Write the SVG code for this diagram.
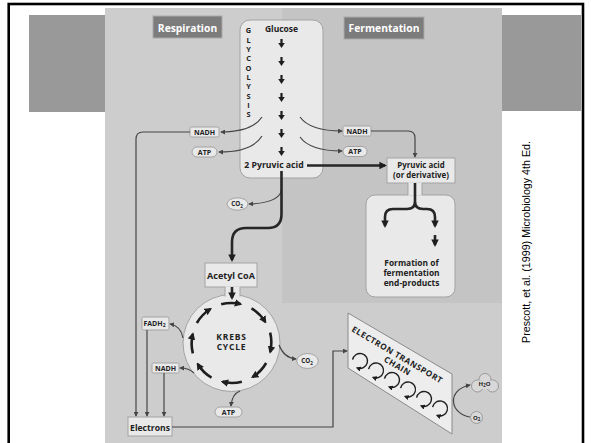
<svg xmlns="http://www.w3.org/2000/svg" width="591" height="443" viewBox="0 0 591 443">
<defs>
<style>
text{font-family:"Open Sans","Liberation Sans",sans-serif;font-weight:700;fill:#222;text-anchor:middle}
.box{fill:#e9e9e9;stroke:#a3a3a3;stroke-width:1}
.fill{fill:#e9e9e9}
.side{stroke:#a3a3a3;stroke-width:1}
.lbl{fill:#7c7c7c;stroke:#a9a9a9;stroke-width:1}
.lt{fill:#fff;font-size:10.3px}
.s7{font-size:7px}
.s85{font-size:8.5px}
.thin{fill:none;stroke:#454545;stroke-width:1.2;marker-end:url(#ah)}
.thick{fill:none;stroke:#262626;stroke-width:2.6;marker-end:url(#ahb)}
.kr{fill:none;stroke:#1e1e1e;stroke-width:2.6;marker-end:url(#ahb)}
.sp{fill:none;stroke:#1e1e1e;stroke-width:1.4;marker-end:url(#ahs)}
.cite{font-family:"Liberation Sans",Arial,sans-serif;font-weight:400;fill:#000;font-size:10.7px;text-anchor:start}
</style>
<marker id="ah" viewBox="0 0 6 6" refX="5" refY="3" markerWidth="5" markerHeight="5" markerUnits="userSpaceOnUse" orient="auto"><path d="M0,0 L6,3 L0,6 z" fill="#454545"/></marker>
<marker id="ahb" viewBox="0 0 8 8" refX="6" refY="4" markerWidth="7.5" markerHeight="7.5" markerUnits="userSpaceOnUse" orient="auto"><path d="M0,0 L8,4 L0,8 z" fill="#1e1e1e"/></marker>
<marker id="ahs" viewBox="0 0 6 6" refX="4" refY="3" markerWidth="5" markerHeight="5" markerUnits="userSpaceOnUse" orient="auto"><path d="M0,0 L6,3 L0,6 z" fill="#1e1e1e"/></marker>
<path id="dn" d="M-1.1,0 H1.1 V4 H3.3 L0,9 L-3.3,4 H-1.1 Z" fill="#1e1e1e"/>
<path id="spiral" class="sp" d="M-7.4,-1.3 A7.5,7.5 0 1 1 -2.6,7"/>
</defs>

<!-- slide decoration -->
<rect x="8.7" y="4" width="574.3" height="460" fill="#fff" stroke="#000" stroke-width="2.6"/>
<rect x="29" y="15" width="76" height="97" fill="#999"/>
<rect x="502" y="15" width="79" height="96" fill="#999"/>

<!-- diagram background -->
<rect x="105" y="8" width="397" height="435" fill="#cdcdcd"/>
<rect x="282" y="8" width="220" height="295" fill="#c4c4c4"/>

<g id="respiration-label"><rect class="lbl" x="153" y="16" width="69" height="22"/><text class="lt" x="187.5" y="31.5">Respiration</text></g>
<g id="fermentation-label"><rect class="lbl" x="344" y="17" width="80" height="22"/><text class="lt" x="384" y="32">Fermentation</text></g>

<g id="glycolysis">
<rect class="box" x="240" y="20" width="83" height="158" rx="10"/>
<text class="s85" x="281.5" y="32">Glucose</text>
<text style="font-size:7.4px"><tspan x="248.5" y="33.3">G</tspan><tspan x="248.5" dy="9.33">L</tspan><tspan x="248.5" dy="9.33">Y</tspan><tspan x="248.5" dy="9.33">C</tspan><tspan x="248.5" dy="9.33">O</tspan><tspan x="248.5" dy="9.33">L</tspan><tspan x="248.5" dy="9.33">Y</tspan><tspan x="248.5" dy="9.33">S</tspan><tspan x="248.5" dy="9.33">I</tspan><tspan x="248.5" dy="9.33">S</tspan></text>
<use href="#dn" x="281.5" y="39"/><use href="#dn" x="281.5" y="57"/><use href="#dn" x="281.5" y="75"/><use href="#dn" x="281.5" y="93"/><use href="#dn" x="281.5" y="111"/><use href="#dn" x="281.5" y="129"/><use href="#dn" x="281.5" y="147"/>
<text x="274" y="168" style="font-size:8.7px">2 Pyruvic acid</text>
</g>

<g id="nadh-left"><rect class="box" x="190" y="127" width="29" height="10" rx="1.5"/><text class="s7" x="204.5" y="134.6">NADH</text></g>
<g id="atp-left"><rect class="box" x="192" y="147" width="25" height="10" rx="5"/><text class="s7" x="204.5" y="154.6">ATP</text></g>
<g id="nadh-right"><rect class="box" x="343" y="126" width="28" height="10" rx="1.5"/><text class="s7" x="357" y="133.6">NADH</text></g>
<g id="atp-right"><rect class="box" x="343" y="146.5" width="24" height="10" rx="5"/><text class="s7" x="355" y="154.1">ATP</text></g>

<g id="pyruvic-derivative">
<rect class="box" x="366" y="195" width="89" height="102" rx="9"/>
<rect class="box" x="387" y="158" width="68" height="25"/>
<rect class="fill" x="408" y="182.5" width="14" height="13"/>
<path class="side" d="M408,183 V195 M422,183 V195"/>
<text x="421" y="167.5" style="font-size:7.9px">Pyruvic acid</text>
<text x="421" y="178.3" style="font-size:7.9px">(or derivative)</text>
<text x="411.5" y="265.5" style="font-size:8.4px">Formation of</text>
<text x="411.5" y="275.5" style="font-size:8.4px">fermentation</text>
<text x="411.5" y="285.5" style="font-size:8.4px">end-products</text>
</g>

<g id="co2-top"><ellipse class="box" cx="237.5" cy="204" rx="10.5" ry="6.2"/><text x="237" y="206.3" style="font-size:6.3px">CO<tspan dy="1.5" style="font-size:4.5px">2</tspan></text></g>

<g id="krebs">
<circle class="box" cx="231.5" cy="343" r="48.5"/>
<rect class="box" x="205" y="263" width="52" height="24"/>
<rect class="fill" x="225" y="286.5" width="15" height="10"/>
<path class="side" d="M225,287 V296.5 M240,287 V296.5"/>
<text x="231" y="278.5" style="font-size:9px">Acetyl CoA</text>
<text x="231.5" y="340" style="font-size:8.5px;letter-spacing:0.8px">KREBS</text>
<text x="231.5" y="350" style="font-size:8.5px;letter-spacing:0.8px">CYCLE</text>
<path class="kr" d="M221.15,304.36 A40,40 0 0 1 240.5,304.1"/>
<path class="kr" d="M251.5,308.36 A40,40 0 0 1 265.3,322"/>
<path class="kr" d="M270.14,332.65 A40,40 0 0 1 270.2,352"/>
<path class="kr" d="M266.14,363 A40,40 0 0 1 252.6,377"/>
<path class="kr" d="M241.85,381.64 A40,40 0 0 1 222.5,381.8"/>
<path class="kr" d="M211.5,377.64 A40,40 0 0 1 197.7,364"/>
<path class="kr" d="M192.86,353.35 A40,40 0 0 1 192.8,334"/>
<path class="kr" d="M196.86,323 A40,40 0 0 1 210.4,309"/>
</g>

<g id="fadh2"><rect class="box" x="142" y="317" width="27" height="13" rx="1.5"/><text class="s7" x="154.5" y="325.8">FADH<tspan dy="1.5" style="font-size:5px">2</tspan></text></g>
<g id="nadh-krebs"><rect class="box" x="152" y="363" width="27" height="10" rx="1.5"/><text class="s7" x="165.5" y="370.6">NADH</text></g>
<g id="co2-krebs"><ellipse class="box" cx="307.5" cy="361" rx="10.8" ry="7.5"/><text x="307" y="363.3" style="font-size:6.3px">CO<tspan dy="1.5" style="font-size:4.5px">2</tspan></text></g>
<g id="atp-krebs"><rect class="box" x="215" y="407" width="27" height="10" rx="5"/><text class="s7" x="228.5" y="414.6">ATP</text></g>
<g id="electrons"><rect class="box" x="128" y="417" width="44" height="19"/><text x="150" y="431" style="font-size:8.6px">Electrons</text></g>

<g id="etc">
<polygon points="348,313 452,374 452,434 348,368" fill="#ededed" stroke="#8a8a8a" stroke-width="1"/>
<text transform="translate(351,331) rotate(30.4)" style="font-size:8.2px;letter-spacing:0.6px;text-anchor:start">ELECTRON TRANSPORT</text>
<text transform="translate(396,368.5) rotate(30.4)" style="font-size:8.2px;letter-spacing:0.6px">CHAIN</text>
<use href="#spiral" x="360" y="361"/><use href="#spiral" x="376" y="370.5"/><use href="#spiral" x="392" y="380"/><use href="#spiral" x="408" y="389.5"/><use href="#spiral" x="424" y="399"/><use href="#spiral" x="440" y="408.5"/>
</g>

<g id="h2o"><circle cx="485" cy="379.5" r="6" fill="#d8d8d8" stroke="#9a9a9a"/><circle cx="477.5" cy="386" r="6" fill="#d8d8d8" stroke="#9a9a9a"/><circle cx="492.5" cy="386" r="6" fill="#d8d8d8" stroke="#9a9a9a"/><circle cx="485" cy="384" r="5.5" fill="#d8d8d8"/><circle cx="479" cy="385" r="4.5" fill="#d8d8d8"/><circle cx="491" cy="385" r="4.5" fill="#d8d8d8"/><text x="484.5" y="385.5" style="font-size:6px">H<tspan dy="1.5" style="font-size:4.3px">2</tspan><tspan dy="-1.5">O</tspan></text></g>
<g id="o2"><circle cx="476.5" cy="417.5" r="6" fill="#d8d8d8" stroke="#9a9a9a"/><text x="476.5" y="419.5" style="font-size:6px">O<tspan dy="1.5" style="font-size:4.3px">2</tspan></text></g>

<g id="connectors">
<path class="thin" d="M262,117 Q252,132 221,132"/>
<path class="thin" d="M262,136 Q252,152 219,152"/>
<path class="thin" d="M300,117 Q310,131 342,131"/>
<path class="thin" d="M300,137 Q310,151 342,151"/>
<path class="thin" d="M371,131 H408 Q415,131 415,138 V157"/>
<path class="thin" d="M190,132 H143 Q136,132 136,139 V416"/>
<path class="thin" d="M147,330 V416"/>
<path class="thin" d="M164,373 V416"/>
<path class="thin" d="M172,427 H333 V351 H347"/>
<path class="thin" d="M183,338 Q181,326 170,324"/>
<path class="thin" d="M194,373 Q189,368 180,368"/>
<path class="thin" d="M279,345 Q284,358 296,359"/>
<path class="thin" d="M240,391 Q232,394 231,406"/>
<path class="thin" d="M281.5,190 Q279,203 249,204"/>
<path class="thin" d="M470,417 C450,414 446,390 470,385"/>
<path class="thick" d="M307,165.5 H385"/>
<path class="thick" d="M281.5,171 V214 Q281.5,228 268,228 H246 Q232,228 232,242 V260"/>
<path class="thick" d="M232,287 V298"/>
<path class="thick" d="M415,183 V202 Q415,209 407,209 H393 Q385,209 385,217 V226"/>
<path class="thick" d="M415,202 Q415,209 423,209 H427 Q435,209 435,217 V226"/>
<path class="thick" d="M435,235 V245"/>
</g>

<text class="cite" transform="translate(529.5,343) rotate(-90)">Prescott, et al. (1999) Microbiology 4th Ed.</text>
</svg>
